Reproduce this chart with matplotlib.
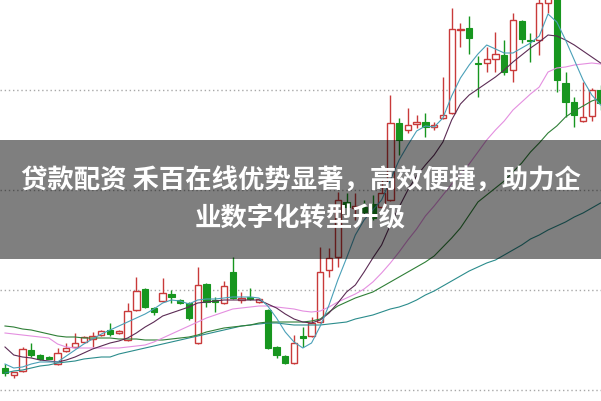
import numpy as np
import matplotlib
matplotlib.use("Agg")
import matplotlib.pyplot as plt
from matplotlib.patches import Rectangle

plt.rcParams['font.family'] = ['Noto Sans CJK SC', 'DejaVu Sans']

# daily candles (price units)
opens = [3.2, 2.5, 2.9, 5.0, 4.5, 4.3, 3.6, 4.9, 5.3, 5.8,
         6.1, 6.5, 7.0, 6.7, 6.0, 9.0, 11.1, 9.2, 9.9, 10.6,
         10.0, 9.7, 5.7, 11.6, 10.0, 9.7, 12.8, 10.0, 10.3, 9.8,
         9.0, 5.3, 4.4, 3.7, 6.4, 6.4, 7.8, 13.0, 14.3, 19.8,
         19.2, 19.3, 19.6, 19.3, 20.0, 27.7, 27.0, 27.6, 27.8, 27.3,
         28.2, 28.7, 37.0, 37.2, 33.7, 33.7, 34.1, 34.5, 33.0, 37.9,
         36.0, 36.0, 39.7, 40.5, 31.7, 29.8, 27.9, 28.4, 31.0]
closes = [2.7, 2.8, 5.1, 4.5, 4.1, 4.15, 4.7, 5.2, 5.7, 6.3,
          6.4, 6.9, 6.6, 6.9, 8.9, 10.9, 9.3, 8.8, 10.7, 10.3,
          9.7, 8.2, 11.5, 9.8, 9.8, 11.4, 10.2, 10.2, 10.1, 10.1,
          5.2, 4.5, 3.7, 5.7, 6.2, 7.7, 12.8, 14.2, 20.0, 19.3,
          19.4, 18.8, 18.2, 20.7, 27.7, 26.0, 27.5, 27.8, 27.3, 27.5,
          28.5, 37.1, 37.1, 36.2, 33.6, 34.1, 34.6, 32.8, 38.0, 36.1,
          35.9, 39.7, 41.0, 32.0, 29.8, 28.5, 28.3, 31.0, 29.7]
highs = [3.6, 2.8, 5.3, 5.7, 4.6, 4.4, 5.2, 5.7, 6.7, 6.4,
         6.8, 7.0, 7.7, 7.0, 9.7, 12.3, 11.2, 9.3, 12.2, 11.0,
         10.1, 9.8, 13.3, 11.7, 10.3, 11.9, 14.3, 10.8, 11.2, 10.2,
         9.1, 5.4, 4.5, 6.5, 7.3, 8.3, 15.3, 15.2, 20.8, 20.7,
         20.7, 20.0, 20.5, 22.0, 30.5, 28.2, 29.2, 28.5, 28.7, 27.8,
         32.3, 39.2, 37.7, 38.4, 34.4, 35.3, 36.8, 36.0, 38.7, 38.0,
         36.7, 40.5, 42.0, 41.0, 32.8, 30.3, 31.8, 31.2, 31.5]
lows = [2.4, 2.2, 2.8, 4.3, 4.0, 4.1, 3.5, 4.8, 5.2, 5.7,
        5.3, 6.4, 6.4, 6.6, 5.9, 8.9, 9.2, 8.5, 9.8, 9.7,
        9.6, 8.0, 5.6, 9.3, 8.8, 9.6, 10.1, 9.7, 10.0, 9.7,
        5.1, 4.2, 3.6, 3.6, 5.3, 6.3, 7.7, 12.3, 13.3, 18.3,
        18.0, 18.5, 18.0, 19.2, 19.9, 24.5, 26.7, 27.2, 26.3, 27.0,
        28.1, 28.6, 35.3, 34.6, 30.3, 32.8, 32.8, 32.5, 31.8, 35.7,
        33.8, 34.5, 38.7, 30.8, 28.3, 27.3, 27.8, 27.9, 29.0]

# moving average lines as they appear on the chart
ma5 = [3.6, 3.2, 3.3, 3.6, 3.8, 3.8, 3.8, 4.4, 5.0, 5.6,
       6.1, 6.6, 7.0, 7.4, 7.8, 8.2, 8.6, 9.1, 9.7, 10.0,
       9.9, 9.6, 10.0, 10.1, 10.1, 10.2, 10.3, 10.3, 10.3, 10.2,
       9.4, 8.2, 6.8, 5.8, 5.2, 5.7, 7.4, 9.5, 12.0, 14.2,
       16.5, 18.0, 19.0, 20.0, 22.0, 24.0, 25.5, 26.9, 27.4, 27.3,
       28.2, 30.4, 32.2, 33.5, 34.6, 35.5, 35.1, 34.7, 34.7, 35.2,
       35.7, 36.4, 38.6, 37.8, 36.0, 34.0, 32.0, 30.5, 29.5]
ma10 = [5.3, 4.5, 4.3, 4.2, 4.0, 3.9, 3.8, 4.0, 4.3, 4.7,
        5.1, 5.4, 5.7, 5.9, 6.2, 6.7, 7.3, 7.8, 8.4, 8.7,
        9.0, 9.3, 9.7, 9.8, 9.9, 10.0, 10.0, 10.0, 10.0, 10.0,
        9.6, 9.2, 8.6, 8.1, 7.8, 7.7, 8.0, 8.7, 9.7, 10.8,
        11.5, 12.8, 14.2, 15.5, 17.5, 19.3, 21.0, 22.4, 23.5, 24.5,
        25.8, 28.0, 29.6, 30.5, 31.1, 31.7, 32.3, 33.0, 33.8, 34.5,
        35.2, 35.8, 36.5, 36.4, 36.0, 35.5, 34.9, 34.3, 33.7]
ma20 = [6.7, 6.6, 6.5, 6.4, 6.3, 6.2, 5.6, 5.3, 5.2, 5.2,
        5.2, 5.2, 5.2, 5.2, 5.3, 5.4, 5.5, 5.8, 6.2, 6.6,
        7.0, 7.4, 7.8, 8.2, 8.5, 8.8, 9.1, 9.2, 9.3, 9.4,
        9.4, 9.3, 9.2, 9.1, 8.9, 8.8, 8.9, 9.3, 9.8, 10.2,
        10.6, 11.1, 11.8, 12.7, 13.7, 14.8, 16.0, 17.1, 18.4, 19.4,
        20.5, 21.6, 22.6, 23.6, 24.8, 26.0, 27.0, 27.9, 29.0, 29.8,
        30.6, 31.3, 32.8, 33.2, 33.3, 33.5, 33.6, 33.7, 33.6]
ma30 = [7.4, 7.3, 7.1, 7.0, 6.8, 6.6, 6.4, 6.3, 6.3, 6.2,
        6.2, 6.2, 6.2, 6.1, 6.1, 6.1, 6.0, 6.0, 6.0, 6.1,
        6.2, 6.3, 6.5, 6.8, 7.0, 7.2, 7.3, 7.4, 7.5, 7.7,
        7.8, 7.8, 7.8, 7.8, 7.8, 7.9, 8.1, 8.8, 9.4, 9.8,
        10.2, 10.5, 10.8, 11.3, 11.8, 12.3, 12.8, 13.3, 13.8, 14.4,
        15.3, 16.2, 17.2, 18.5, 19.8, 20.5, 21.2, 21.9, 22.8, 23.7,
        24.8, 25.7, 26.7, 27.4, 28.3, 28.9, 29.4, 29.9, 30.2]
ma60 = [2.7, 2.9, 3.0, 3.2, 3.4, 3.5, 3.7, 3.8, 3.9, 4.1,
        4.2, 4.3, 4.3, 4.6, 4.8, 5.0, 5.2, 5.4, 5.6, 5.8,
        6.0, 6.2, 6.4, 6.6, 6.8, 7.0, 7.2, 7.4, 7.5, 7.6,
        7.7, 7.7, 7.6, 7.5, 7.5, 7.5, 7.5, 7.6, 7.7, 7.8,
        8.1, 8.3, 8.5, 8.8, 9.1, 9.3, 9.6, 10.0, 10.5, 10.9,
        11.4, 11.9, 12.4, 12.9, 13.3, 13.7, 14.0, 14.5, 15.0, 15.5,
        16.1, 16.5, 17.0, 17.4, 17.8, 18.3, 18.7, 19.2, 19.7]

grid_levels = [1, 11, 21, 31]
title_lines = ["贷款配资 禾百在线优势显著，高效便捷，助力企", "业数字化转型升级"]

RED = "#c93a3a"
GREEN = "#17961f"

fig = plt.figure(figsize=(6.01, 4.01), dpi=100)
ax = fig.add_axes([0, 0, 1, 1])
ax.set_axis_off()
ax.set_xlim(-0.57, 68.05)
ax.set_ylim(-0.1, 40)

for g in grid_levels:
    ax.axhline(g, color="#a8a8a8", lw=1.0, ls=(0, (1, 2)), zorder=1)

x = np.arange(len(opens))
o = np.array(opens)
c = np.array(closes)
up = c >= o
body_lo = np.minimum(o, c)
body_h = np.maximum(np.abs(c - o), 0.12)

ax.vlines(x[up], np.array(lows)[up], np.array(highs)[up], color=RED, lw=1.0, zorder=2)
ax.vlines(x[~up], np.array(lows)[~up], np.array(highs)[~up], color=GREEN, lw=1.0, zorder=2)
ax.bar(x[up], body_h[up], bottom=body_lo[up], width=0.72,
       facecolor="white", edgecolor=RED, lw=1.0, zorder=3)
ax.bar(x[~up], body_h[~up], bottom=body_lo[~up], width=0.72,
       facecolor=GREEN, edgecolor=GREEN, lw=0.8, zorder=3)

ax.plot(x, ma60, color="#2b8c8c", lw=0.8, zorder=4)
ax.plot(x, ma30, color="#2f7f37", lw=0.8, zorder=4)
ax.plot(x, ma20, color="#e48fe0", lw=0.8, zorder=4)
ax.plot(x, ma10, color="#5c2c55", lw=0.8, zorder=4)
ax.plot(x, ma5, color="#4aa0b8", lw=0.8, zorder=4)

# dark caption band
fig.patches.append(Rectangle((0, 1 - 259 / 401), 1, 119 / 401, transform=fig.transFigure,
                             facecolor="black", alpha=0.5, zorder=10))
fig.text(0.5, 1 - 181 / 401, title_lines[0], color="white", fontsize=19,
         fontweight="bold", ha="center", va="center", zorder=11)
fig.text(0.5, 1 - 219 / 401, title_lines[1], color="white", fontsize=19,
         fontweight="bold", ha="center", va="center", zorder=11)

fig.savefig("out.png", dpi=100)
